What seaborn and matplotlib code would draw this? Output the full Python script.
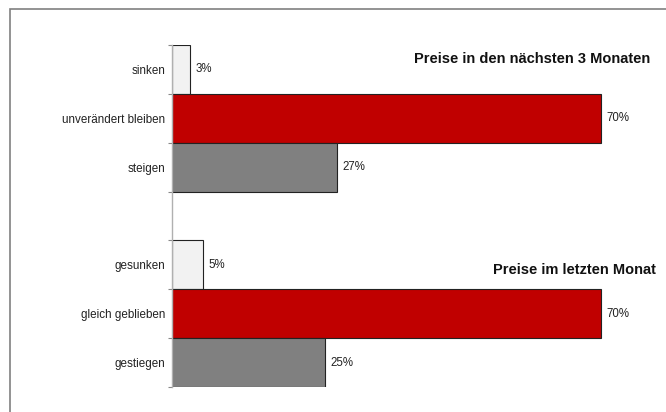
import matplotlib
matplotlib.use("Agg")
import matplotlib.pyplot as plt
from matplotlib.patches import Rectangle
from matplotlib.ticker import FixedLocator
import seaborn as sns
import pandas as pd

# data
categories = ["sinken", "unverändert bleiben", "steigen",
              "gesunken", "gleich geblieben", "gestiegen"]
values = [3, 70, 27, 5, 70, 25]
colors = ["#f2f2f2", "#c00000", "#808080", "#f2f2f2", "#c00000", "#808080"]
order = ["sinken", "unverändert bleiben", "steigen", " ",
         "gesunken", "gleich geblieben", "gestiegen"]
title_top = "Preise in den nächsten 3 Monaten"
title_bottom = "Preise im letzten Monat"

sns.set_style("white")
plt.rcParams['font.family'] = ['Liberation Sans', 'DejaVu Sans']

df = pd.DataFrame({"cat": categories, "val": values})

fig = plt.figure(figsize=(6.66, 4.12), dpi=100)
ax = fig.add_axes([172 / 666, 1 - 387 / 412, 490 / 666, 342 / 412])

sns.barplot(data=df, x="val", y="cat", order=order, hue="cat",
            palette=dict(zip(categories, colors)), legend=False,
            width=1.0, edgecolor="#222222", linewidth=0.8, ax=ax,
            orient="h", saturation=1)

for cont in ax.containers:
    ax.bar_label(cont, labels=[f"{v:.0f}%" for v in cont.datavalues],
                 padding=4, fontsize=8.3, color="#222222")

ax.set_xlim(0, 80)
ax.set_ylim(6.5, -0.5)
ax.set_xlabel("")
ax.set_ylabel("")
ax.set_xticks([])
for s in ["top", "right", "bottom"]:
    ax.spines[s].set_visible(False)
ax.spines["left"].set_color("#b0b0b0")
ax.spines["left"].set_linewidth(1)

ax.set_yticks(range(len(order)))
ax.set_yticklabels(order, fontsize=8.4, color="#222222")
ax.tick_params(axis="y", which="major", length=0, pad=5)
ax.yaxis.set_minor_locator(FixedLocator([-0.5, 0.5, 1.5, 2.5, 3.5, 4.5, 5.5, 6.5]))
ax.tick_params(axis="y", which="minor", length=3, width=0.8, color="#888888",
               direction="out", left=True)

ax.text(78.0, -0.21, title_top, ha="right", va="center",
        fontsize=10.5, fontweight="bold", color="#111111")
ax.text(79.0, 4.1, title_bottom, ha="right", va="center",
        fontsize=10.5, fontweight="bold", color="#111111")

# outer frame of the chart area
fig.patches.append(Rectangle((10 / 666, -0.1), 1.2, 1 - 9 / 412 + 0.1,
                             transform=fig.transFigure, fill=False,
                             edgecolor="#808080", linewidth=1.2))

fig.savefig("out.png", dpi=100)
